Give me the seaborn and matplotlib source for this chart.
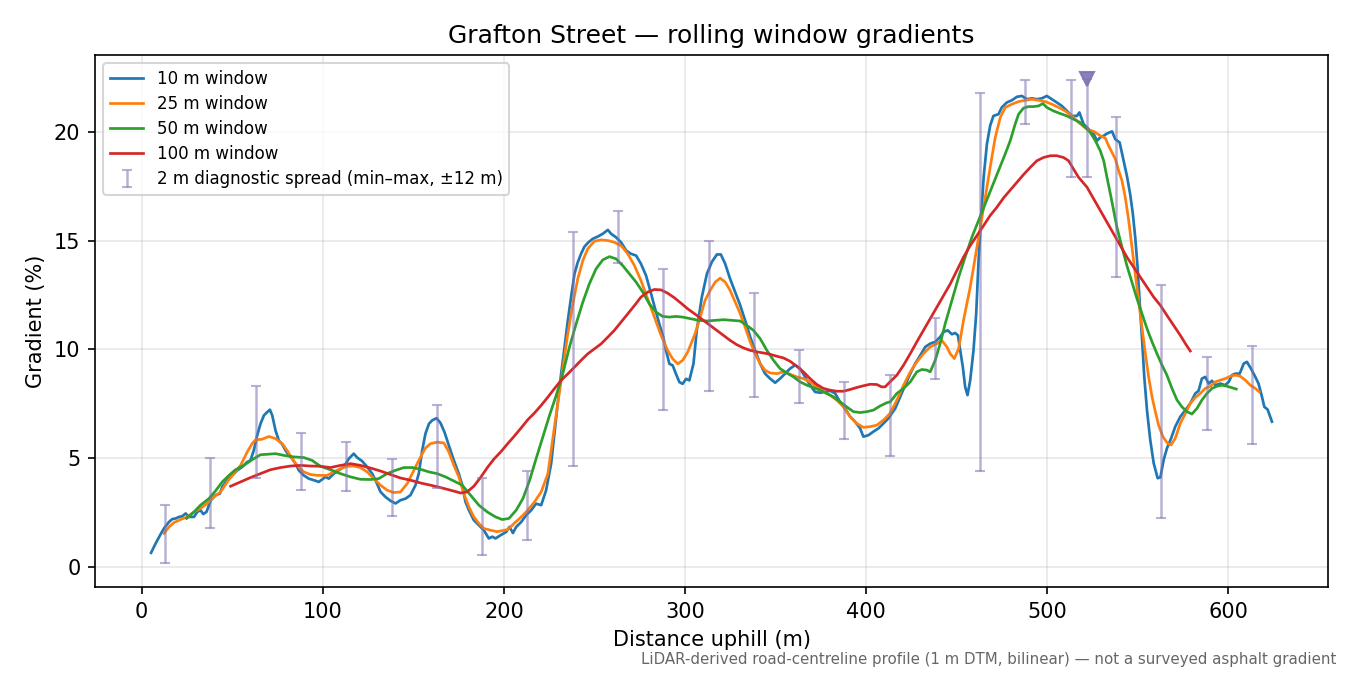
import numpy as np
import pandas as pd
import matplotlib
matplotlib.use("Agg")
import matplotlib.pyplot as plt
import seaborn as sns

# 10 m window
dist_10 = [5.2, 7.7, 10.5, 12.3, 15.1, 16.9, 18.8, 20.6, 22.4, 24.3, 26.1, 28.9, 30.7, 32.5, 34.0, 35.8,
           38.0, 40.8, 43.2, 44.5, 47.2, 50.0, 52.8, 55.5, 58.3, 60.1, 61.9, 63.8, 65.6, 67.5, 69.3, 70.8,
           72.1, 73.9, 75.7, 77.6, 79.4, 81.3, 83.1, 84.9, 86.8, 89.5, 92.3, 95.0, 97.8, 101.5, 103.3,
           106.1, 108.8, 111.6, 114.4, 117.1, 119.0, 121.7, 124.5, 127.3, 129.1, 131.9, 134.6, 137.4,
           140.2, 142.9, 145.7, 148.4, 151.2, 153.0, 154.9, 156.7, 158.6, 160.4, 162.8, 165.0, 167.2,
           169.6, 172.4, 175.1, 177.0, 178.8, 180.7, 183.4, 186.2, 188.9, 191.7, 193.6, 195.4, 198.2,
           201.3, 203.1, 205.0, 206.8, 209.6, 212.3, 215.1, 217.8, 220.6, 223.3, 226.1, 227.9, 229.8,
           231.6, 233.5, 235.3, 237.1, 239.0, 240.8, 242.6, 244.5, 246.7, 249.1, 251.8, 254.6, 257.4,
           259.2, 261.9, 264.7, 267.5, 270.2, 273.0, 275.7, 278.5, 281.3, 283.5, 285.8, 288.0, 289.5,
           291.4, 293.2, 295.0, 296.9, 298.7, 300.6, 302.4, 304.7, 306.5, 309.3, 312.1, 314.8, 317.6,
           319.8, 322.2, 324.9, 327.7, 330.5, 333.2, 336.0, 338.7, 341.5, 344.2, 347.0, 349.8, 352.5,
           355.3, 358.0, 360.8, 363.6, 366.3, 369.1, 371.8, 374.6, 377.4, 380.1, 382.9, 385.6, 388.4,
           391.2, 393.9, 396.7, 398.5, 401.3, 404.0, 406.8, 409.6, 412.3, 416.1, 418.8, 421.6, 424.4,
           427.1, 429.9, 432.7, 435.4, 438.2, 440.9, 442.8, 445.0, 447.4, 449.2, 450.7, 452.0, 453.4,
           454.7, 456.0, 457.5, 459.3, 460.8, 462.1, 463.4, 464.9, 466.7, 468.5, 470.3, 473.1, 474.9,
           477.7, 480.5, 483.3, 486.0, 488.8, 491.5, 494.3, 497.1, 499.8, 502.6, 505.3, 508.1, 510.9,
           513.6, 516.4, 517.8, 520.1, 522.9, 525.7, 527.5, 529.3, 531.2, 533.0, 535.8, 537.6, 540.0,
           541.8, 544.0, 545.8, 547.3, 548.6, 549.9, 551.0, 552.3, 553.6, 555.1, 556.9, 558.8, 561.0,
           562.5, 564.3, 566.1, 568.4, 570.7, 573.5, 576.3, 579.0, 581.8, 583.6, 585.4, 587.3, 589.1,
           591.0, 592.8, 595.6, 598.3, 600.2, 602.0, 603.9, 606.3, 608.5, 610.3, 612.5, 614.9, 616.7,
           618.6, 619.9, 621.7, 624.1]
grad_10 = [0.64, 1.07, 1.50, 1.76, 2.06, 2.19, 2.22, 2.29, 2.32, 2.45, 2.29, 2.29, 2.52, 2.60, 2.42, 2.52,
           3.03, 3.29, 3.36, 3.67, 3.98, 4.20, 4.43, 4.59, 4.82, 4.89, 5.35, 6.04, 6.57, 6.96, 7.11, 7.22,
           6.96, 6.27, 5.81, 5.63, 5.35, 5.12, 4.97, 4.74, 4.43, 4.20, 4.05, 3.98, 3.90, 4.13, 4.05,
           4.28, 4.43, 4.59, 4.97, 5.20, 5.02, 4.86, 4.59, 4.28, 3.98, 3.44, 3.21, 3.03,
           2.91, 3.06, 3.13, 3.29, 3.75, 4.28, 5.35, 6.12, 6.57, 6.73, 6.83, 6.61, 6.19,
           5.58, 4.89, 4.28, 3.75, 2.98, 2.60, 2.14, 1.91, 1.68, 1.30, 1.38, 1.30, 1.45,
           1.60, 1.83, 1.55, 1.83, 2.06, 2.37, 2.60, 2.90, 2.83, 3.51, 4.74, 6.12, 7.57,
           8.87, 10.10, 11.32, 12.40, 13.47, 14.00, 14.39, 14.72, 14.92, 15.08, 15.18, 15.31, 15.49,
           15.31, 15.15, 14.92, 14.54, 14.39, 14.31, 13.93, 13.39, 12.55, 11.86, 11.17, 10.56, 9.95,
           9.33, 9.26, 8.87, 8.49, 8.41, 8.64, 8.57, 9.34, 10.87, 12.40, 13.47, 14.01, 14.36,
           14.36, 13.93, 13.24, 12.63, 12.02, 11.33, 10.57, 9.95, 9.34, 8.88, 8.65, 8.46, 8.65,
           8.88, 9.11, 9.27, 9.11, 8.73, 8.35, 8.04, 8.00, 8.04, 8.09, 7.97, 7.58, 7.28,
           6.90, 6.67, 6.36, 5.98, 6.05, 6.21, 6.36, 6.59, 6.82, 7.28, 7.81, 8.35, 8.88,
           9.34, 9.72, 10.11, 10.26, 10.34, 10.57, 10.80, 10.87, 10.69, 10.75, 10.64, 9.95, 9.19,
           8.27, 7.89, 8.58, 9.95, 11.64, 14.08, 15.92, 17.90, 19.43, 20.28, 20.73, 20.81, 21.12,
           21.35, 21.45, 21.61, 21.65, 21.50, 21.54, 21.50, 21.54, 21.65, 21.50, 21.35, 21.19, 20.96,
           20.73, 20.73, 20.89, 20.35, 20.12, 19.89, 19.59, 19.74, 19.82, 19.92, 20.02, 19.66, 19.51,
           18.82, 17.98, 17.14, 16.22, 15.15, 13.78, 12.25, 10.57, 8.73, 7.20, 5.83, 4.76, 4.07,
           4.11, 4.91, 5.44, 5.90, 6.44, 6.90, 7.20, 7.51, 7.97, 8.09, 8.65, 8.73, 8.42,
           8.55, 8.35, 8.42, 8.35, 8.50, 8.81, 8.88, 8.88, 9.34, 9.42, 9.11, 8.73, 8.42,
           7.81, 7.35, 7.23, 6.67]

# 25 m window
dist_25 = [12.3, 15.1, 17.8, 21.5, 25.2, 28.9, 32.5, 36.2, 39.9, 43.6, 47.2, 50.9, 54.6, 58.3, 61.0, 62.9,
           66.5, 70.2, 73.9, 77.6, 80.3, 83.1, 85.8, 89.5, 93.2, 96.9, 102.4, 106.1, 109.8, 113.4, 117.1,
           120.8, 124.5, 128.2, 131.9, 135.5, 139.2, 142.9, 146.6, 150.3, 154.0, 156.7, 159.5, 163.2,
           166.9, 169.6, 172.4, 175.1, 177.9, 180.7, 183.4, 186.2, 188.9, 192.6, 196.3, 202.2, 205.9,
           209.6, 213.2, 216.9, 220.6, 224.3, 227.9, 231.6, 235.3, 238.1, 240.8, 243.6, 246.3, 250.0,
           253.7, 257.4, 261.0, 264.7, 268.4, 272.1, 275.7, 279.4, 283.1, 286.8, 290.4, 293.2, 296.0,
           298.7, 301.5, 305.6, 308.4, 311.1, 313.9, 316.7, 319.4, 322.2, 324.9, 327.7, 330.5, 333.2,
           336.0, 338.7, 341.5, 344.2, 347.0, 350.7, 354.4, 358.0, 361.7, 365.4, 369.1, 372.8, 376.4,
           380.1, 383.8, 387.5, 391.2, 394.8, 398.5, 402.2, 405.9, 409.6, 413.2, 417.0, 420.7, 424.4,
           428.0, 431.7, 435.4, 439.1, 441.8, 444.6, 446.4, 448.7, 451.1, 453.8, 457.5, 461.2, 464.9,
           468.5, 471.3, 474.1, 476.8, 480.5, 484.2, 487.9, 491.5, 495.2, 498.9, 502.6, 506.3, 509.9,
           513.6, 517.3, 522.0, 525.7, 529.3, 532.1, 533.9, 535.8, 537.6, 539.5, 541.3, 543.1, 545.0,
           546.8, 548.6, 550.5, 552.3, 554.2, 556.0, 557.9, 559.7, 561.5, 563.9, 566.5, 568.4, 570.7,
           573.5, 576.3, 579.0, 581.8, 584.5, 587.3, 590.1, 592.8, 595.6, 598.3, 601.1, 603.9, 606.6,
           609.4, 612.1, 614.9, 617.1]
grad_25 = [1.53, 1.83, 2.03, 2.17, 2.29, 2.52, 2.68, 2.91, 3.21, 3.44, 3.90, 4.28, 4.66, 5.28, 5.66, 5.84,
           5.86, 5.99, 5.89, 5.66, 5.35, 4.97, 4.66, 4.36, 4.24, 4.20, 4.20, 4.36, 4.51, 4.62, 4.63,
           4.56, 4.36, 4.05, 3.75, 3.52, 3.41, 3.44, 3.82, 4.43, 5.05, 5.46, 5.66, 5.73,
           5.69, 5.28, 4.66, 4.13, 3.36, 2.75, 2.29, 1.99, 1.76, 1.68, 1.61, 1.71, 2.01,
           2.29, 2.60, 2.98, 3.44, 4.28, 6.42, 8.57, 10.71, 12.09, 13.24, 14.08, 14.62, 14.97,
           15.03, 15.00, 14.92, 14.77, 14.39, 13.85, 13.16, 12.32, 11.48, 10.64, 9.95, 9.56, 9.33,
           9.49, 9.87, 10.72, 11.48, 12.25, 12.71, 13.09, 13.27, 13.09, 12.71, 12.17, 11.64, 11.02,
           10.34, 9.80, 9.34, 9.04, 8.91, 8.88, 8.96, 8.85, 8.73, 8.65, 8.50, 8.27, 8.04,
           7.89, 7.66, 7.35, 6.90, 6.59, 6.41, 6.44, 6.51, 6.74, 7.05, 7.66, 8.35, 8.96,
           9.42, 9.80, 10.11, 10.26, 10.41, 10.11, 9.80, 9.57, 10.03, 11.33, 12.86, 14.69, 16.53,
           18.36, 19.74, 20.66, 21.12, 21.27, 21.39, 21.45, 21.50, 21.45, 21.39, 21.27, 21.12, 20.96,
           20.73, 20.43, 20.12, 20.02, 19.82, 19.71, 19.36, 19.05, 18.75, 18.21, 17.75, 16.99, 15.92,
           14.69, 13.47, 12.25, 11.02, 9.80, 8.73, 7.81, 7.13, 6.51, 5.98, 5.67, 5.60, 5.90,
           6.59, 7.05, 7.51, 7.78, 7.97, 8.20, 8.30, 8.50, 8.58, 8.65, 8.76, 8.81, 8.76,
           8.58, 8.35, 8.20, 8.04]

# 50 m window
dist_50 = [24.8, 28.9, 32.5, 37.1, 40.8, 44.5, 48.2, 51.8, 56.4, 61.0, 65.6, 69.3, 73.9, 78.5, 84.0, 89.5,
           94.1, 98.7, 104.2, 109.8, 115.3, 120.8, 126.3, 130.9, 135.5, 140.1, 144.8, 149.4, 154.0,
           158.6, 163.2, 167.8, 172.4, 177.0, 181.6, 186.2, 190.8, 195.4, 199.1, 202.8, 206.8, 210.5,
           214.2, 217.8, 221.5, 225.2, 228.9, 232.5, 236.2, 239.9, 243.6, 247.2, 250.9, 254.6, 258.3,
           261.9, 265.6, 269.3, 273.0, 276.7, 280.3, 284.0, 287.7, 291.4, 295.0, 298.7, 302.9, 307.5,
           312.1, 316.7, 321.3, 325.9, 330.5, 334.1, 337.8, 341.5, 345.2, 348.8, 352.5, 356.2, 359.9,
           363.6, 367.2, 370.9, 374.6, 378.3, 382.0, 385.6, 389.3, 393.0, 396.7, 400.4, 404.0, 407.7,
           411.4, 413.3, 417.0, 420.7, 424.4, 428.0, 430.8, 433.6, 435.4, 438.2, 440.9, 443.7, 447.4,
           451.1, 454.7, 458.4, 462.1, 465.8, 469.4, 473.1, 476.8, 479.6, 482.3, 484.2, 486.9, 489.7,
           492.5, 495.2, 497.6, 499.8, 503.5, 507.2, 510.9, 514.5, 518.2, 521.1, 523.8, 526.6, 529.3,
           531.2, 533.0, 534.9, 536.7, 538.5, 541.3, 544.0, 546.8, 549.6, 552.3, 555.1, 557.9, 560.6,
           563.4, 566.1, 568.9, 571.7, 574.4, 577.2, 579.9, 582.7, 585.4, 588.2, 591.0, 593.7, 596.5,
           599.3, 602.0, 604.4]
grad_50 = [2.22, 2.52, 2.83, 3.13, 3.49, 3.90, 4.20, 4.46, 4.66, 4.92, 5.15, 5.17, 5.20, 5.12, 5.05, 5.02,
           4.89, 4.62, 4.46, 4.28, 4.13, 4.02, 4.01, 4.05, 4.28, 4.43, 4.56, 4.56, 4.48,
           4.36, 4.28, 4.13, 3.94, 3.75, 3.29, 2.83, 2.52, 2.29, 2.17, 2.22, 2.60, 3.13,
           3.97, 4.97, 5.96, 6.96, 7.88, 8.87, 10.10, 11.17, 12.17, 13.01, 13.70, 14.11, 14.26,
           14.16, 13.85, 13.47, 13.09, 12.63, 12.09, 11.71, 11.51, 11.48, 11.51, 11.48, 11.41, 11.33,
           11.30, 11.33, 11.36, 11.33, 11.30, 11.10, 10.87, 10.49, 9.95, 9.50, 9.11, 8.91, 8.73,
           8.50, 8.35, 8.24, 8.12, 7.97, 7.81, 7.58, 7.35, 7.13, 7.09, 7.13, 7.20, 7.39,
           7.54, 7.58, 7.97, 8.20, 8.50, 8.96, 9.07, 9.04, 8.96, 9.50, 10.26, 11.18, 12.25,
           13.32, 14.24, 15.15, 15.92, 16.68, 17.45, 18.21, 18.98, 19.59, 20.35, 20.81, 21.09, 21.16,
           21.16, 21.19, 21.30, 21.12, 20.96, 20.84, 20.73, 20.58, 20.43, 20.20, 19.97, 19.59, 19.13,
           18.67, 17.91, 17.14, 16.38, 15.61, 14.69, 13.85, 13.09, 12.32, 11.64, 10.95, 10.34, 9.80,
           9.27, 8.81, 8.20, 7.66, 7.35, 7.13, 7.02, 7.28, 7.66, 7.97, 8.20, 8.30, 8.35,
           8.30, 8.23, 8.17]

# 100 m window
dist_100 = [49.1, 54.6, 60.1, 65.6, 71.1, 76.7, 82.2, 87.7, 93.2, 98.7, 104.2, 109.8, 115.3, 120.8, 126.3,
            131.9, 137.4, 142.9, 148.4, 154.0, 159.5, 165.0, 170.5, 176.1, 179.7, 183.4, 187.1, 190.8,
            194.5, 198.5, 202.0, 205.7, 209.4, 213.2, 216.9, 220.6, 224.3, 227.9, 231.6, 235.3, 239.0,
            242.6, 246.3, 250.0, 253.7, 257.4, 261.0, 264.7, 268.4, 272.1, 275.7, 279.4, 283.1, 286.8,
            290.4, 294.1, 297.8, 301.5, 306.5, 310.2, 313.9, 317.6, 321.3, 324.9, 328.6, 332.3, 336.0,
            339.7, 343.3, 347.0, 350.7, 354.4, 358.0, 361.7, 365.4, 369.1, 372.8, 376.4, 380.1, 383.8,
            387.5, 391.2, 394.8, 398.5, 402.2, 405.9, 408.6, 410.5, 413.2, 417.0, 420.7, 424.4, 428.0,
            431.7, 435.4, 439.1, 442.8, 446.5, 450.1, 453.8, 457.5, 461.2, 464.9, 468.5, 472.2, 475.9,
            479.6, 483.3, 486.9, 490.6, 494.3, 498.0, 501.7, 505.3, 509.0, 511.8, 514.5, 517.3, 522.0,
            525.7, 529.3, 533.0, 536.7, 540.4, 544.0, 547.7, 551.4, 555.1, 558.8, 562.5, 566.1, 569.8,
            573.5, 576.3, 579.0]
grad_100 = [3.70, 3.90, 4.10, 4.28, 4.46, 4.56, 4.63, 4.66, 4.63, 4.62, 4.56, 4.66, 4.74, 4.66, 4.54,
            4.40, 4.24, 4.08, 3.98, 3.85, 3.75, 3.64, 3.52, 3.39, 3.44, 3.70, 4.10, 4.55,
            4.95, 5.30, 5.65, 6.00, 6.37, 6.76, 7.07, 7.42, 7.80, 8.19, 8.57, 8.87, 9.18,
            9.49, 9.79, 10.02, 10.25, 10.56, 10.87, 11.25, 11.63, 12.01, 12.40, 12.63, 12.75, 12.73,
            12.58, 12.37, 12.12, 11.86, 11.56, 11.33, 11.10, 10.87, 10.64, 10.41, 10.21, 10.06, 9.95,
            9.88, 9.83, 9.77, 9.68, 9.60, 9.45, 9.22, 8.96, 8.65, 8.38, 8.20, 8.12, 8.07,
            8.07, 8.15, 8.24, 8.32, 8.39, 8.38, 8.27, 8.27, 8.50, 8.81, 9.27, 9.80, 10.34,
            10.87, 11.41, 11.94, 12.48, 13.01, 13.62, 14.24, 14.77, 15.23, 15.69, 16.15, 16.53, 16.96,
            17.32, 17.68, 18.03, 18.36, 18.67, 18.82, 18.90, 18.90, 18.82, 18.67, 18.29, 17.91, 17.45,
            16.91, 16.38, 15.84, 15.31, 14.77, 14.24, 13.78, 13.32, 12.86, 12.40, 12.02, 11.56, 11.10,
            10.64, 10.26, 9.92]

# 2 m diagnostic spread (min/max within +-12 m)
spread_x = [13, 38, 63, 88, 113, 138, 163, 188, 213, 238, 263, 288, 313, 338, 363, 388, 413, 438,
            463, 488, 513, 522, 538, 563, 588, 613]
spread_lo = [0.18, 1.79, 4.10, 3.55, 3.49, 2.34, 3.64, 0.55, 1.22, 4.62, 13.96, 7.19, 8.09, 7.81,
             7.51, 5.87, 5.09, 8.62, 4.42, 20.38, 17.91, 17.91, 13.32, 2.25, 6.31, 5.64]
spread_hi = [2.83, 4.98, 8.30, 6.15, 5.73, 4.94, 7.43, 4.07, 4.40, 15.37, 16.38, 13.67, 15.00, 12.58,
             9.95, 8.48, 8.81, 11.44, 21.77, 22.39, 22.39, 22.42, 20.66, 12.94, 9.65, 10.15]

series = [
    ("10 m window", dist_10, grad_10, "#1f77b4"),
    ("25 m window", dist_25, grad_25, "#ff7f0e"),
    ("50 m window", dist_50, grad_50, "#2ca02c"),
    ("100 m window", dist_100, grad_100, "#d62728"),
]

fig, ax = plt.subplots(figsize=(9, 4.5), dpi=150)
fig.subplots_adjust(left=0.0704, right=0.9837, top=0.9185, bottom=0.1304)

for label, xs, ys, col in series:
    df = pd.DataFrame({"dist": xs, "grad": ys})
    sns.lineplot(data=df, x="dist", y="grad", ax=ax, color=col, label=label,
                 linewidth=1.3, estimator=None)

lo = np.array(spread_lo)
hi = np.array(spread_hi)
mid = (lo + hi) / 2
ax.errorbar(spread_x, mid, yerr=[mid - lo, hi - mid], fmt="none", ecolor="#8172b3",
            alpha=0.55, elinewidth=1.2, capsize=2.5,
            label="2 m diagnostic spread (min\u2013max, \u00b112 m)")

# steepest 2 m sample
imax = int(np.argmax(hi))
ax.plot([spread_x[imax]], [hi[imax]], marker="v", color="#8172b3", alpha=0.9,
        markersize=7, linestyle="none")

ax.set_title("Grafton Street \u2014 rolling window gradients", fontsize=12)
ax.set_xlabel("Distance uphill (m)", fontsize=10)
ax.set_ylabel("Gradient (%)", fontsize=10)
ax.grid(True, alpha=0.3)
ax.legend(loc="upper left", fontsize=8, labelspacing=0.42)

fig.text(0.99, 0.012,
         "LiDAR-derived road-centreline profile (1 m DTM, bilinear) \u2014 not a surveyed asphalt gradient",
         ha="right", va="bottom", fontsize=7.2, color="#666666")

fig.savefig("out.png", dpi=150)
